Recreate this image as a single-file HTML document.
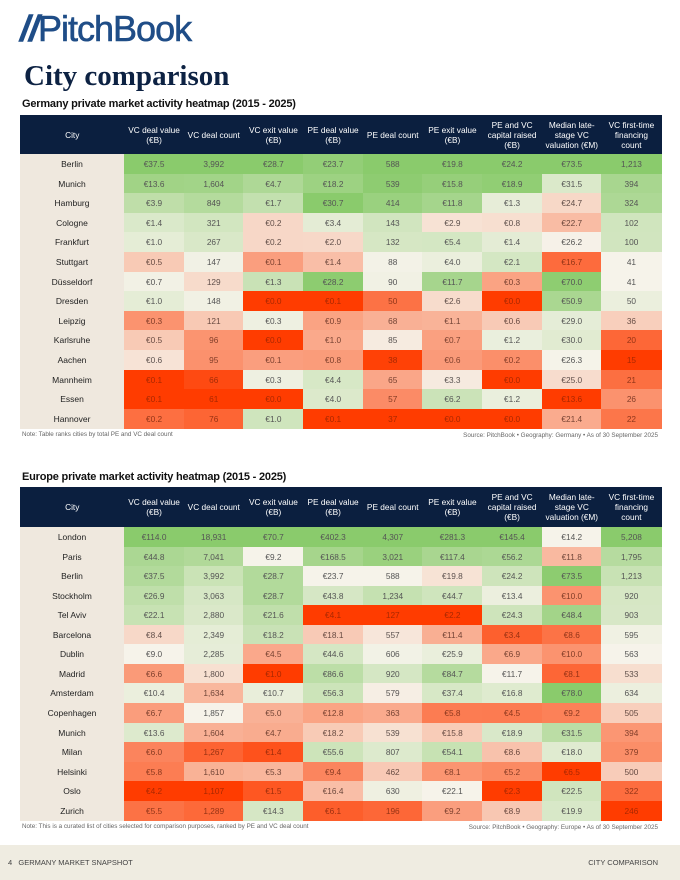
<!DOCTYPE html>
<html><head><meta charset="utf-8">
<style>
body{margin:0;width:680px;height:880px;background:#fff;position:relative;overflow:hidden;font-family:"Liberation Sans",sans-serif;}
.abs{position:absolute;}
#logo{left:20px;top:8px;font-size:36px;color:#1f4d87;letter-spacing:-1px;font-weight:normal;-webkit-text-stroke:0.6px #1f4d87;}
#title{left:24px;top:60px;font-family:"Liberation Serif",serif;font-weight:bold;font-size:29px;color:#0d2243;}
.sub{left:22px;font-weight:bold;font-size:11px;color:#111;letter-spacing:-0.2px;}
.hd{position:absolute;background:#0b1f3f;color:#fff;font-size:8.3px;line-height:10px;display:flex;align-items:center;justify-content:center;text-align:center;box-sizing:border-box;padding:0 3px;}
.cell{position:absolute;font-size:8.3px;color:#555;display:flex;align-items:center;justify-content:center;}
.city{background:#efe8de;color:#222;font-size:8.5px;}
.note{font-size:6.3px;color:#666;}
#footer{left:0;top:845px;width:680px;height:35px;background:#efece1;font-size:7.5px;color:#444;}
</style></head><body>
<div class="abs" id="logo"><span style="font-style:italic;font-weight:bold;">//</span>PitchBook</div>
<div class="abs" id="title">City comparison</div>
<div class="abs sub" style="top:98px">Germany private market activity heatmap (2015 - 2025)</div>
<div id="de"></div>
<div class="abs note" style="left:22px;top:431px">Note: Table ranks cities by total PE and VC deal count</div>
<div class="abs note" style="right:22px;top:432px">Source: PitchBook • Geography: Germany • As of 30 September 2025</div>
<div class="abs sub" style="top:471px">Europe private market activity heatmap (2015 - 2025)</div>
<div id="eu"></div>
<div class="abs note" style="left:22px;top:823px">Note: This is a curated list of cities selected for comparison purposes, ranked by PE and VC deal count</div>
<div class="abs note" style="right:22px;top:824px">Source: PitchBook • Geography: Europe • As of 30 September 2025</div>
<div class="abs" id="footer">
<span class="abs" style="left:8px;top:13px">4&nbsp;&nbsp;&nbsp;GERMANY MARKET SNAPSHOT</span>
<span class="abs" style="right:22px;top:13px">CITY COMPARISON</span></div>
<script>
const headers=["City","VC deal value (€B)","VC deal count","VC exit value (€B)","PE deal value (€B)","PE deal count","PE exit value (€B)","PE and VC capital raised (€B)","Median late-stage VC valuation (€M)","VC first-time financing count"];
const colTypes=["eur","int","eur","eur","int","eur","eur","eur","int"];
const deCities=["Berlin","Munich","Hamburg","Cologne","Frankfurt","Stuttgart","Düsseldorf","Dresden","Leipzig","Karlsruhe","Aachen","Mannheim","Essen","Hannover"];
const deVcDealValue=[37.5,13.6,3.9,1.4,1.0,0.5,0.7,1.0,0.3,0.5,0.6,0.1,0.1,0.2];
const deVcDealCount=[3992,1604,849,321,267,147,129,148,121,96,95,66,61,76];
const deVcExitValue=[28.7,4.7,1.7,0.2,0.2,0.1,1.3,0.0,0.3,0.0,0.1,0.3,0.0,1.0];
const dePeDealValue=[23.7,18.2,30.7,3.4,2.0,1.4,28.2,0.1,0.9,1.0,0.8,4.4,4.0,0.1];
const dePeDealCount=[588,539,414,143,132,88,90,50,68,85,38,65,57,37];
const dePeExitValue=[19.8,15.8,11.8,2.9,5.4,4.0,11.7,2.6,1.1,0.7,0.6,3.3,6.2,0.0];
const deCapitalRaised=[24.2,18.9,1.3,0.8,1.4,2.1,0.3,0.0,0.6,1.2,0.2,0.0,1.2,0.0];
const deLateValuation=[73.5,31.5,24.7,22.7,26.2,16.7,70.0,50.9,29.0,30.0,26.3,25.0,13.6,21.4];
const deFirstFinancing=[1213,394,324,102,100,41,41,50,36,20,15,21,26,22];
const euCities=["London","Paris","Berlin","Stockholm","Tel Aviv","Barcelona","Dublin","Madrid","Amsterdam","Copenhagen","Munich","Milan","Helsinki","Oslo","Zurich"];
const euVcDealValue=[114.0,44.8,37.5,26.9,22.1,8.4,9.0,6.6,10.4,6.7,13.6,6.0,5.8,4.2,5.5];
const euVcDealCount=[18931,7041,3992,3063,2880,2349,2285,1800,1634,1857,1604,1267,1610,1107,1289];
const euVcExitValue=[70.7,9.2,28.7,28.7,21.6,18.2,4.5,1.0,10.7,5.0,4.7,1.4,5.3,1.5,14.3];
const euPeDealValue=[402.3,168.5,23.7,43.8,4.1,18.1,44.6,86.6,56.3,12.8,18.2,55.6,9.4,16.4,6.1];
const euPeDealCount=[4307,3021,588,1234,127,557,606,920,579,363,539,807,462,630,196];
const euPeExitValue=[281.3,117.4,19.8,44.7,2.2,11.4,25.9,84.7,37.4,5.8,15.8,54.1,8.1,22.1,9.2];
const euCapitalRaised=[145.4,56.2,24.2,13.4,24.3,3.4,6.9,11.7,16.8,4.5,18.9,8.6,5.2,2.3,8.9];
const euLateValuation=[14.2,11.8,73.5,10.0,48.4,8.6,10.0,8.1,78.0,9.2,31.5,18.0,6.5,22.5,19.9];
const euFirstFinancing=[5208,1795,1213,920,903,595,563,533,634,505,394,379,500,322,246];

const NEU=[246,243,234],GRN=[138,203,108],RED=[255,60,0];
function mix(a,b,t){return a.map((v,i)=>Math.round(v+(b[i]-v)*t));}
function colorScale(vals){
  const l=vals.map(v=>Math.log(v+0.05));
  const s=[...l].sort((a,b)=>a-b);const n=s.length;
  const med=n%2?s[(n-1)/2]:(s[n/2-1]+s[n/2])/2;
  const mn=s[0],mx=s[n-1];
  return l.map(x=>{if(x>=med){const t=mx>med?(x-med)/(mx-med):0;return {c:mix(NEU,GRN,Math.pow(t,0.8)),r:0};}
    const t=med>mn?(med-x)/(med-mn):0;const tt=Math.pow(t,0.8);return {c:mix(NEU,RED,tt),r:tt};});
}
function fmt(v,t){return t==="eur"?"€"+v.toFixed(1):v.toLocaleString("en-US");}
function colX(i){return i===0?20:124+(i-1)*59.67;}
function colW(i){return i===0?104:59.67;}
function build(id,cities,cols,top,headH,rowH){
  const host=document.getElementById(id);
  headers.forEach((h,i)=>{const d=document.createElement("div");d.className="hd";d.textContent=h;
    d.style.left=colX(i)+"px";d.style.top=top+"px";d.style.width=(colW(i)+0.5)+"px";d.style.height=headH+"px";
    
    
    host.appendChild(d);});
  const scales=cols.map(colorScale);
  cities.forEach((city,r)=>{
    const y=top+headH+r*rowH;
    const c=document.createElement("div");c.className="cell city";c.textContent=city;
    c.style.left="20px";c.style.top=y+"px";c.style.width="104px";c.style.height=(rowH+0.5)+"px";
    
    
    host.appendChild(c);
    cols.forEach((col,ci)=>{
      const cell=document.createElement("div");cell.className="cell";
      const s=scales[ci][r];
      cell.style.left=colX(ci+1)+"px";cell.style.top=y+"px";cell.style.width=(colW(1)+0.5)+"px";cell.style.height=(rowH+0.5)+"px";
      cell.style.background="rgb("+s.c.join(",")+")";
      cell.style.color="rgb("+mix([85,85,85],[170,40,0],s.r).join(",")+")";
      cell.textContent=fmt(col[r],colTypes[ci]);
      
      
      host.appendChild(cell);
    });
  });
}
build("de",deCities,[deVcDealValue,deVcDealCount,deVcExitValue,dePeDealValue,dePeDealCount,dePeExitValue,deCapitalRaised,deLateValuation,deFirstFinancing],115,39,19.6);
build("eu",euCities,[euVcDealValue,euVcDealCount,euVcExitValue,euPeDealValue,euPeDealCount,euPeExitValue,euCapitalRaised,euLateValuation,euFirstFinancing],487,40,19.55);
</script>
</body></html>
